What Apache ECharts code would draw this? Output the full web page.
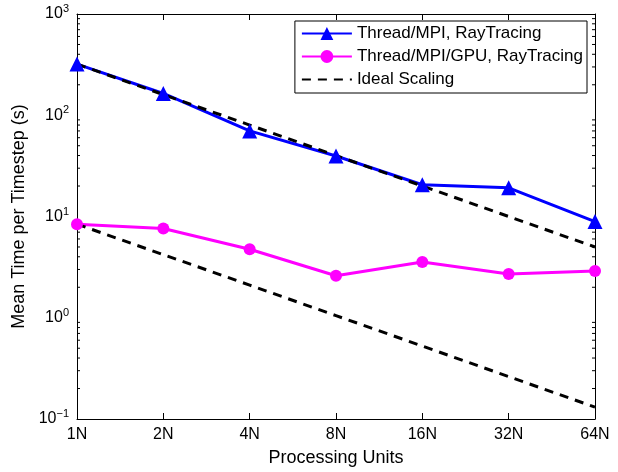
<!DOCTYPE html>
<html>
<head>
<meta charset="utf-8">
<script src="https://cdn.jsdelivr.net/npm/echarts@6/dist/echarts.min.js"></script>
<style>
html,body{margin:0;padding:0;background:#fff;}
#main{width:618px;height:472px;}
</style>
</head>
<body>
<div id="main"></div>
<script>
// 数据
var categories = ['1N', '2N', '4N', '8N', '16N', '32N', '64N'];
var cpuTimes = [320, 164, 70, 39.6, 20.6, 19.2, 8.9];
var gpuTimes = [8.4, 7.6, 4.75, 2.6, 3.55, 2.7, 2.9];
var idealHigh = [320, 160, 80, 40, 20, 10, 5];
var idealLow = [8.4, 4.2, 2.1, 1.05, 0.525, 0.2625, 0.131];
var minorTickValues = [0.2, 0.3, 0.4, 0.5, 0.6, 0.7, 0.8, 0.9,
	2, 3, 4, 5, 6, 7, 8, 9,
	20, 30, 40, 50, 60, 70, 80, 90,
	200, 300, 400, 500, 600, 700, 800, 900];

var font = 'Liberation Sans, Arial, Helvetica, sans-serif';

function chart(){
	var myChart = echarts.init(document.getElementById('main'));

	var minorData = [];
	for (var i = 0; i < minorTickValues.length; i++) {
		minorData.push([0, minorTickValues[i]]);
	}

	var option = {
		animation: false,
		backgroundColor: '#fff',
		textStyle: {fontFamily: font},
		grid: {left: 77, right: 23, top: 14, bottom: 50},
		legend: {
			orient: 'vertical',
			right: 31,
			top: 21,
			data: [
				'Thread/MPI, RayTracing',
				'Thread/MPI/GPU, RayTracing',
				{name: 'Ideal Scaling', itemStyle: {opacity: 0}}
			],
			backgroundColor: '#fff',
			borderColor: '#000',
			borderWidth: 1,
			borderRadius: 0,
			padding: [4, 4, 5, 6],
			itemGap: 6,
			itemWidth: 50,
			itemHeight: 16,
			textStyle: {fontSize: 17, color: '#000', fontFamily: font}
		},
		xAxis: [{
			type: 'category',
			data: categories,
			boundaryGap: false,
			name: 'Processing Units',
			nameLocation: 'middle',
			nameGap: 30,
			nameTextStyle: {fontSize: 18, color: '#000', fontFamily: font},
			axisLine: {lineStyle: {color: '#000', width: 1}},
			axisTick: {inside: true, length: 6, lineStyle: {color: '#000'}},
			axisLabel: {fontSize: 16, color: '#000', margin: 8, fontFamily: font},
			splitLine: {show: false}
		}, {
			type: 'category',
			data: categories,
			boundaryGap: false,
			position: 'top',
			axisLine: {lineStyle: {color: '#000', width: 1}},
			axisTick: {inside: true, length: 6, lineStyle: {color: '#000'}},
			axisLabel: {show: false},
			splitLine: {show: false}
		}],
		yAxis: [{
			type: 'log',
			logBase: 10,
			min: 0.1,
			max: 1000,
			name: 'Mean Time per Timestep (s)',
			nameLocation: 'middle',
			nameGap: 44,
			nameTextStyle: {fontSize: 18, color: '#000', fontFamily: font},
			axisLine: {show: true, lineStyle: {color: '#000', width: 1}},
			axisTick: {inside: true, length: 6, lineStyle: {color: '#000'}},
			axisLabel: {
				margin: 8,
				formatter: function(v){
					var e = Math.round(Math.log(v) / Math.LN10);
					return '{b|10}{s|' + (e < 0 ? '\u2212' + (-e) : e) + '}';
				},
				rich: {
					b: {fontSize: 16, color: '#000', fontFamily: font},
					s: {fontSize: 11, color: '#000', fontFamily: font, verticalAlign: 'top', padding: [0, 0, 10, 0]}
				}
			},
			splitLine: {show: false}
		}, {
			type: 'log',
			logBase: 10,
			min: 0.1,
			max: 1000,
			position: 'right',
			axisLine: {show: true, lineStyle: {color: '#000', width: 1}},
			axisTick: {inside: true, length: 6, lineStyle: {color: '#000'}},
			axisLabel: {show: false},
			splitLine: {show: false}
		}],
		series: [{
			name: 'Thread/MPI, RayTracing',
			type: 'line',
			data: cpuTimes,
			symbol: 'triangle',
			symbolSize: 15,
			itemStyle: {color: '#0000ff'},
			lineStyle: {color: '#0000ff', width: 3}
		}, {
			name: 'Thread/MPI/GPU, RayTracing',
			type: 'line',
			data: gpuTimes,
			symbol: 'circle',
			symbolSize: 12,
			itemStyle: {color: '#ff00ff'},
			lineStyle: {color: '#ff00ff', width: 3}
		}, {
			name: 'Ideal Scaling',
			type: 'line',
			data: idealHigh,
			symbol: 'none',
			itemStyle: {color: '#000'},
			lineStyle: {color: '#000', width: 3, type: [9, 7]}
		}, {
			name: 'Ideal Scaling',
			type: 'line',
			data: idealLow,
			symbol: 'none',
			itemStyle: {color: '#000'},
			lineStyle: {color: '#000', width: 3, type: [9, 7]}
		}, {
			// 对数小刻度
			type: 'custom',
			silent: true,
			data: minorData,
			renderItem: function(params, api){
				var p = api.coord([api.value(0), api.value(1)]);
				var cs = params.coordSys;
				var style = {stroke: '#000', lineWidth: 1};
				return {
					type: 'group',
					children: [{
						type: 'line',
						shape: {x1: cs.x, y1: p[1], x2: cs.x + 3, y2: p[1]},
						style: style
					}, {
						type: 'line',
						shape: {x1: cs.x + cs.width - 3, y1: p[1], x2: cs.x + cs.width, y2: p[1]},
						style: style
					}]
				};
			}
		}]
	};

	myChart.setOption(option);
}

chart();
</script>
</body>
</html>
